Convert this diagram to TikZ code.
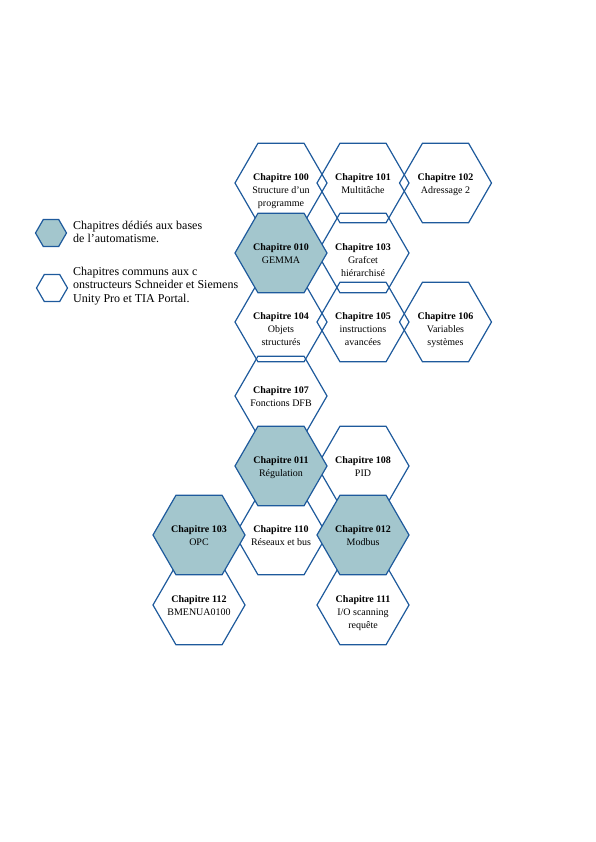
\documentclass[tikz,border=0pt]{standalone}
\usepackage{fontspec}
\setmainfont{Liberation Serif}
\usepackage{tikz}
\usetikzlibrary{shapes.geometric, positioning}

\begin{document}
\begin{tikzpicture}[x=1pt, y=-1pt,
  hexa/.style={regular polygon, regular polygon sides=6, minimum size=92pt, inner sep=0pt, draw=chapblue, line width=1.2pt},
  basehex/.style={hexa, fill=basefill},
  chaptxt/.style={anchor=north, yshift=10pt, inner sep=0pt, align=center, font=\fontsize{10}{13}\selectfont},
  legtxt/.style={anchor=north west, inner sep=0pt, align=left, font=\fontsize{12}{13.6}\selectfont}]
  \definecolor{chapblue}{HTML}{1E5A9C}
  \definecolor{basefill}{HTML}{A3C6CD}

  \useasboundingbox (0,0) rectangle (595,842);

  % legend
  \node[basehex, minimum size=31pt] (lgbase) at (51,233) {};
  \node[hexa, minimum size=31pt] (lgcommon) at (52,288) {};
  \node[legtxt] (lgbasetxt) at (73,220.5) {Chapitres dédiés aux bases\\de l’automatisme.};
  \node[legtxt] (lgcommontxt) at (73,266.5) {Chapitres communs aux c\\onstructeurs Schneider et Siemens\\Unity Pro et TIA Portal.};

  % chapitres communs
  \node[hexa] (c100) at (281,183) {};
  \node[hexa] (c101) at (363,183) {};
  \node[hexa] (c102) at (445.5,183) {};
  \node[hexa] (c103) at (363,253) {};
  \node[hexa] (c104) at (281,322) {};
  \node[hexa] (c105) at (363,322) {};
  \node[hexa] (c106) at (445.5,322) {};
  \node[hexa] (c107) at (281,396) {};
  \node[hexa] (c108) at (363,466) {};
  \node[hexa] (c110) at (281,535) {};
  \node[hexa] (c112) at (199,605) {};
  \node[hexa] (c111) at (363,605) {};

  % chapitres de base
  \node[basehex] (c010) at (281,253) {};
  \node[basehex] (c011) at (281,466) {};
  \node[basehex] (copc) at (199,535) {};
  \node[basehex] (c012) at (363,535) {};

  % textes
  \node[chaptxt] (t100) at (c100.center) {\textbf{Chapitre 100}\\Structure d’un\\programme};
  \node[chaptxt] (t101) at (c101.center) {\textbf{Chapitre 101}\\Multitâche};
  \node[chaptxt] (t102) at (c102.center) {\textbf{Chapitre 102}\\Adressage 2};
  \node[chaptxt] (t010) at (c010.center) {\textbf{Chapitre 010}\\GEMMA};
  \node[chaptxt] (t103) at (c103.center) {\textbf{Chapitre 103}\\Grafcet\\hiérarchisé};
  \node[chaptxt] (t104) at (c104.center) {\textbf{Chapitre 104}\\Objets\\structurés};
  \node[chaptxt] (t105) at (c105.center) {\textbf{Chapitre 105}\\instructions\\avancées};
  \node[chaptxt] (t106) at (c106.center) {\textbf{Chapitre 106}\\Variables\\systèmes};
  \node[chaptxt] (t107) at (c107.center) {\textbf{Chapitre 107}\\Fonctions DFB};
  \node[chaptxt] (t011) at (c011.center) {\textbf{Chapitre 011}\\Régulation};
  \node[chaptxt] (t108) at (c108.center) {\textbf{Chapitre 108}\\PID};
  \node[chaptxt] (topc) at (copc.center) {\textbf{Chapitre 103}\\OPC};
  \node[chaptxt] (t110) at (c110.center) {\textbf{Chapitre 110}\\Réseaux et bus};
  \node[chaptxt] (t012) at (c012.center) {\textbf{Chapitre 012}\\Modbus};
  \node[chaptxt] (t112) at (c112.center) {\textbf{Chapitre 112}\\BMENUA0100};
  \node[chaptxt] (t111) at (c111.center) {\textbf{Chapitre 111}\\I/O scanning\\requête};
\end{tikzpicture}
\end{document}
